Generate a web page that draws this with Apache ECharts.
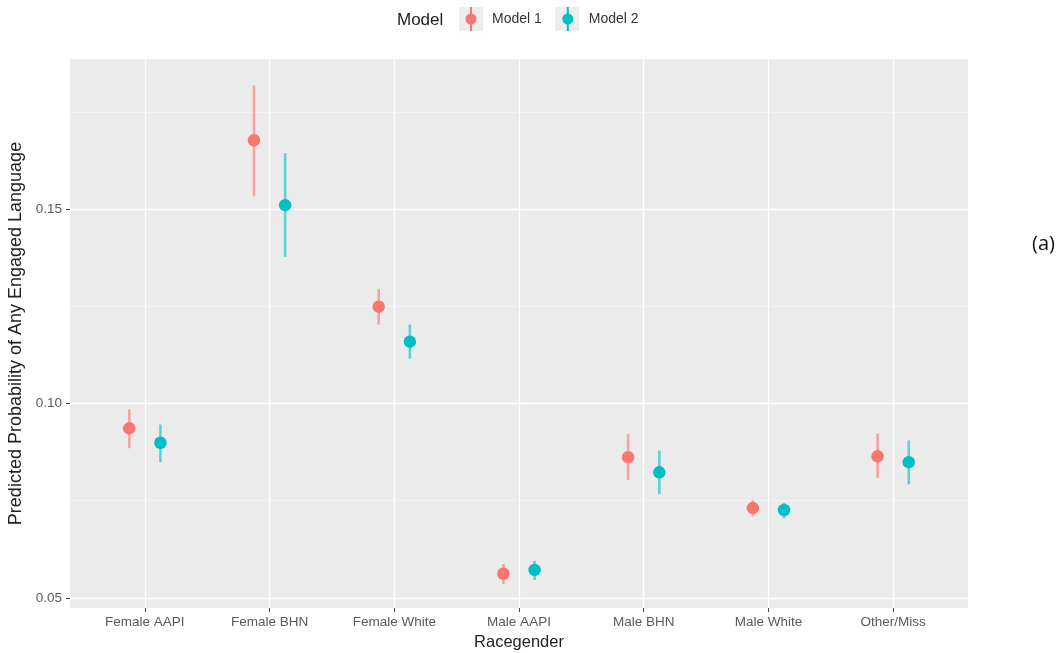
<!DOCTYPE html>
<html>
<head>
<meta charset="utf-8">
<script src="https://cdn.jsdelivr.net/npm/echarts@6/dist/echarts.min.js"></script>
<style>html,body{margin:0;padding:0;background:#fff}#c{width:1061px;height:653px}</style>
</head>
<body>
<div id="c"></div>
<script>
const categories = ['Female AAPI', 'Female BHN', 'Female White', 'Male AAPI', 'Male BHN', 'Male White', 'Other/Miss'];
const seriesNames = ['Model 1', 'Model 2'];
const model1Est = [0.0936, 0.1677, 0.1249, 0.0562, 0.0862, 0.0731, 0.0864];
const model1Lo  = [0.0885, 0.1533, 0.1203, 0.0536, 0.0803, 0.0710, 0.0808];
const model1Hi  = [0.0985, 0.1818, 0.1295, 0.0587, 0.0921, 0.0751, 0.0923];
const model2Est = [0.0899, 0.1510, 0.1159, 0.0572, 0.0823, 0.0726, 0.0849];
const model2Lo  = [0.0849, 0.1377, 0.1115, 0.0546, 0.0767, 0.0705, 0.0792];
const model2Hi  = [0.0946, 0.1644, 0.1203, 0.0595, 0.0879, 0.0744, 0.0905];
const yMajorTicks = [0.05, 0.10, 0.15];
const yMinorTicks = [0.075, 0.125, 0.175];
const colors = ['#F8766D', '#00BFC4'];

const xPositions = categories.map((c, i) => i + 1);
const dodge = 0.125;
const yMin = 0.0474, yMax = 0.1886;
const FONT = 'Liberation Sans';

function errSeries(name, color, lo, hi, off) {
  return {
    name: name, type: 'custom',
    data: lo.map((v, i) => [xPositions[i] + off, v, hi[i]]),
    renderItem: function (params, api) {
      const a = api.coord([api.value(0), api.value(1)]);
      const b = api.coord([api.value(0), api.value(2)]);
      return { type: 'line', shape: { x1: a[0], y1: a[1], x2: b[0], y2: b[1] },
        style: { stroke: color, lineWidth: 2.6, opacity: 0.6 } };
    },
    z: 3
  };
}
function ptSeries(name, color, est, off) {
  return {
    name: name, type: 'scatter', symbol: 'circle', symbolSize: 12.5,
    itemStyle: { color: color, opacity: 1 },
    data: est.map((v, i) => [xPositions[i] + off, v]), z: 4
  };
}

const legendIcon = 'path://M4.5,0 L6.5,0 L6.5,24 L4.5,24 Z M5.5,6.5 A5.5,5.5 0 1,1 5.49,6.5 Z';

const chart = echarts.init(document.getElementById('c'), null, { renderer: 'canvas' });
chart.setOption({
  animation: false,
  backgroundColor: '#ffffff',
  grid: { left: 70, right: 93, top: 59, bottom: 45, show: true, backgroundColor: '#EBEBEB', borderWidth: 0,
    containLabel: false, outerBoundsMode: 'none' },
  legend: {
    left: 465.5, top: 7, padding: 0, itemWidth: 11, itemHeight: 24, itemGap: 20.5,
    icon: legendIcon,
    data: [
      { name: seriesNames[0], itemStyle: { color: colors[0] } },
      { name: seriesNames[1], itemStyle: { color: colors[1] } }
    ],
    textStyle: { fontFamily: FONT, fontSize: 14, color: '#333', padding: [2, 0, 0, 10.5] }
  },
  graphic: [
    { type: 'text', x: 397, y: 20, style: { text: 'Model', fontFamily: FONT, fontSize: 17, fill: '#222', verticalAlign: 'middle' } },
    { type: 'rect', x: 459, y: 7, shape: { width: 24, height: 24 }, style: { fill: '#EDEDED' }, z: -1 },
    { type: 'rect', x: 555, y: 7, shape: { width: 24, height: 24 }, style: { fill: '#EDEDED' }, z: -1 },
    { type: 'text', right: 6, top: 234, style: { text: '(a)', fontFamily: 'Open Sans', fontSize: 20, fill: '#111' } }
  ],
  xAxis: {
    type: 'value', min: 0.4, max: 7.6,
    axisLine: { show: false },
    axisTick: { show: true, length: 4, lineStyle: { color: '#444', width: 1 }, customValues: xPositions },
    axisLabel: { customValues: xPositions, formatter: v => categories[Math.round(v) - 1] || '',
      fontFamily: FONT, fontSize: 13.5, color: '#5a5a5a', margin: 7 },
    splitLine: { show: true, lineStyle: { color: '#ffffff', width: 1.3 } },
    name: 'Racegender', nameLocation: 'middle', nameGap: 24,
    nameTextStyle: { fontFamily: FONT, fontSize: 16.5, color: '#222' }
  },
  yAxis: [
    {
      type: 'value', min: yMin, max: yMax,
      axisLine: { show: false },
      axisTick: { show: true, length: 4, lineStyle: { color: '#444', width: 1 }, customValues: yMajorTicks },
      axisLabel: { customValues: yMajorTicks, formatter: v => v.toFixed(2),
        fontFamily: FONT, fontSize: 13.5, color: '#5a5a5a', margin: 8 },
      splitLine: { show: true, lineStyle: { color: '#ffffff', width: 1.3 } },
      name: 'Predicted Probability of Any Engaged Language', nameLocation: 'middle', nameGap: 43, nameRotate: 90,
      nameTextStyle: { fontFamily: FONT, fontSize: 18, color: '#222' }
    },
    {
      type: 'value', min: yMin, max: yMax, position: 'left',
      axisLine: { show: false },
      axisTick: { show: false, customValues: yMinorTicks },
      axisLabel: { show: false, customValues: yMinorTicks },
      splitLine: { show: true, lineStyle: { color: '#F7F7F7', width: 0.7 } }
    }
  ],
  series: [
    ptSeries(seriesNames[0], colors[0], model1Est, -dodge),
    ptSeries(seriesNames[1], colors[1], model2Est, dodge),
    errSeries(seriesNames[0], colors[0], model1Lo, model1Hi, -dodge),
    errSeries(seriesNames[1], colors[1], model2Lo, model2Hi, dodge)
  ]
});
</script>
</body>
</html>
